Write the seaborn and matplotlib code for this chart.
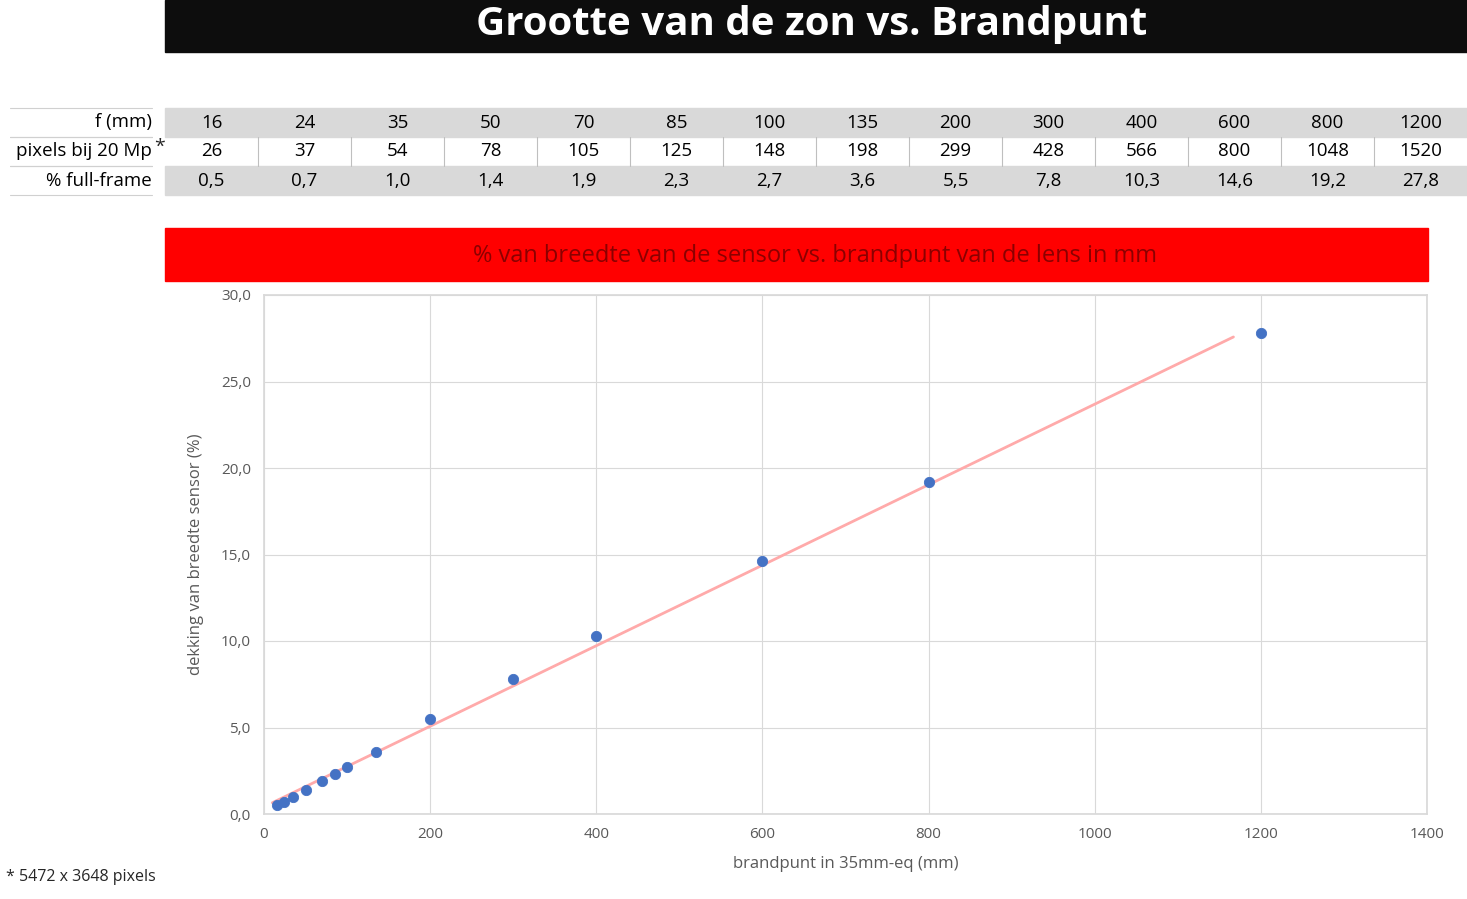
import numpy as np
import pandas as pd
import seaborn as sns
import matplotlib.pyplot as plt
from matplotlib.patches import Rectangle

focal = [16, 24, 35, 50, 70, 85, 100, 135, 200, 300, 400, 600, 800, 1200]
pixels = [26, 37, 54, 78, 105, 125, 148, 198, 299, 428, 566, 800, 1048, 1520]
pct = [0.5, 0.7, 1.0, 1.4, 1.9, 2.3, 2.7, 3.6, 5.5, 7.8, 10.3, 14.6, 19.2, 27.8]
row_labels = ['f (mm)', 'pixels bij 20 Mp', '% full-frame']

W, H = 1467, 899
sns.set_theme(style='whitegrid')
plt.rcParams['font.family'] = ['Open Sans', 'DejaVu Sans']
fig = plt.figure(figsize=(W / 100, H / 100), dpi=100)

def fx(x):
    return x / W

def fy(y):
    return 1 - y / H

# title bar
fig.patches.append(Rectangle((fx(165), fy(52)), fx(1302), 52 / H, transform=fig.transFigure,
                             color='#0d0d0d', zorder=0))
fig.text(fx(812), fy(24), 'Grootte van de zon vs. Brandpunt', color='white', fontsize=29,
         fontweight='bold', ha='center', va='center')

# table
rows = [focal, pixels, [f'{v:.1f}'.replace('.', ',') for v in pct]]
row_top = [108, 137, 166]
row_h = 29
col_w = (1467 - 165) / len(focal)
for r, vals in enumerate(rows):
    top = row_top[r]
    if r != 1:
        fig.patches.append(Rectangle((fx(165), fy(top + row_h)), fx(1302), row_h / H,
                                     transform=fig.transFigure, color='#d9d9d9', zorder=0))
    else:
        for c in range(1, len(focal)):
            xx = fx(165 + c * col_w)
            fig.add_artist(plt.Line2D([xx, xx], [fy(top + row_h), fy(top)],
                                      transform=fig.transFigure, color='#bfbfbf', lw=0.8))
    for c, v in enumerate(vals):
        fig.text(fx(165 + (c + 0.5) * col_w), fy(top + row_h / 2), str(v), fontsize=13.5,
                 ha='center', va='center', color='black')
    fig.text(fx(152), fy(top + row_h / 2), row_labels[r], fontsize=13.5, ha='right',
             va='center', color='black')
    for yy in (top, top + row_h):
        fig.add_artist(plt.Line2D([fx(10), fx(152)], [fy(yy), fy(yy)],
                                  transform=fig.transFigure, color='#d0d0d0', lw=0.8))
fig.text(fx(154), fy(147), '*', fontsize=14, ha='left', va='center')

# red subtitle bar
fig.patches.append(Rectangle((fx(165), fy(281)), fx(1263), 53 / H, transform=fig.transFigure,
                             color='#ff0000', zorder=0))
fig.text(fx(815), fy(256), '% van breedte van de sensor vs. brandpunt van de lens in mm',
         color='#8b0000', fontsize=17, ha='center', va='center')

fig.text(fx(6), fy(877), '* 5472 x 3648 pixels', fontsize=11.5, ha='left', va='center')

# chart
ax = fig.add_axes([fx(264), fy(814), fx(1163), 519 / H])
df = pd.DataFrame({'f': focal, 'pct': pct})
slope, icpt = np.polyfit(df['f'], df['pct'], 1)
xs = np.array([10, 1167])
ax.plot(xs, slope * xs + icpt, color='#ffaaaa', lw=2, zorder=2)
sns.scatterplot(data=df, x='f', y='pct', ax=ax, color='#4472c4', s=55, edgecolor='#4472c4',
                zorder=3)
ax.set_xlim(0, 1400)
ax.set_ylim(0, 30)
ax.set_xticks(range(0, 1401, 200))
ax.set_yticks(np.arange(0, 30.1, 5))
ax.set_yticklabels([f'{v:.1f}'.replace('.', ',') for v in np.arange(0, 30.1, 5)])
ax.tick_params(colors='#595959', labelsize=11)
ax.set_xlabel('brandpunt in 35mm-eq (mm)', fontsize=12, color='#595959', labelpad=10)
ax.set_ylabel('dekking van breedte sensor (%)', fontsize=12, color='#595959', labelpad=12)
ax.grid(color='#d9d9d9', lw=0.8)
for s in ax.spines.values():
    s.set_color('#d9d9d9')
ax.set_facecolor('white')

fig.savefig('out.png', dpi=100)
